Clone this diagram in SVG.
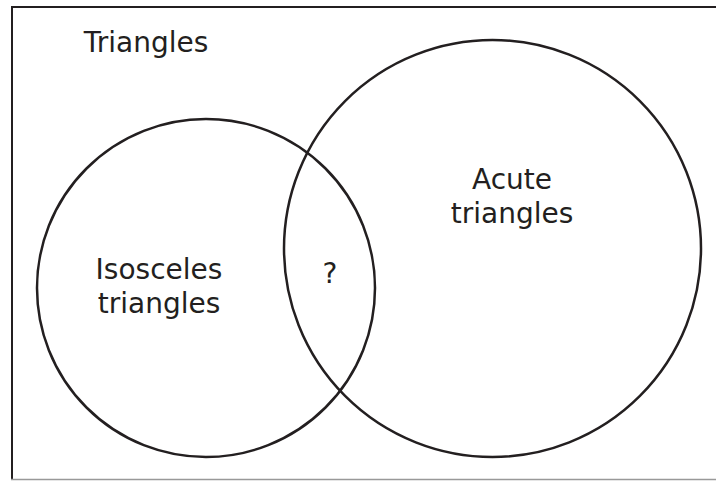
<svg xmlns="http://www.w3.org/2000/svg" width="716" height="481" viewBox="0 0 716 481">
<style>
.c{fill:none;stroke:#231f20;stroke-width:2.5}
.t{font-family:"DejaVu Sans",Verdana,sans-serif;font-size:28px;fill:#231f20;text-anchor:middle}
</style>
<rect width="716" height="481" fill="#fff"/>
<g id="frame">
<line x1="12" y1="7" x2="716" y2="7" stroke="#231f20" stroke-width="2"/>
<line x1="12" y1="6" x2="12" y2="480" stroke="#231f20" stroke-width="2"/>
<line x1="11" y1="479.5" x2="716" y2="479.5" stroke="#999" stroke-width="1.5"/>
<text class="t" x="146" y="52">Triangles</text>
</g>
<g id="isosceles">
<circle class="c" cx="206" cy="288" r="169"/>
<text class="t" x="159" y="279">Isosceles</text>
<text class="t" x="159" y="313">triangles</text>
</g>
<g id="acute">
<circle class="c" cx="492.5" cy="248.5" r="208.5"/>
<text class="t" x="512" y="189">Acute</text>
<text class="t" x="512" y="223">triangles</text>
</g>
<g id="intersection">
<text class="t" x="330" y="283">?</text>
</g>
<g id="connectors"></g>
</svg>
